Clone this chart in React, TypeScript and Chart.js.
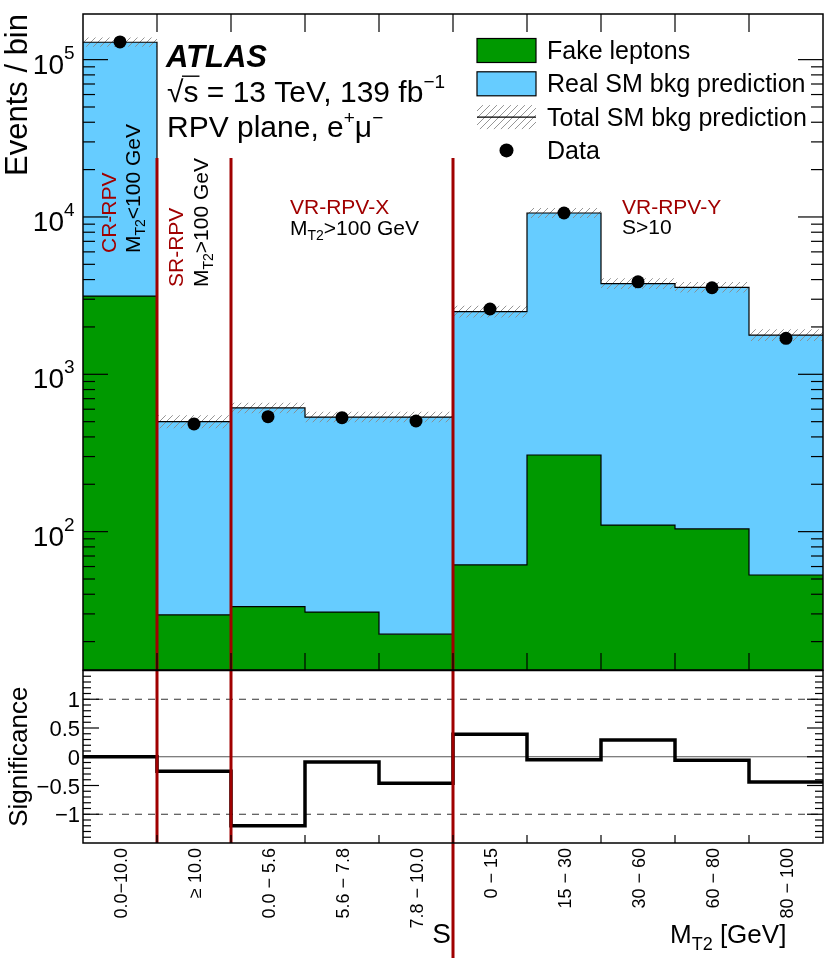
import { useEffect, useRef } from "react";
import { Chart, registerables } from "chart.js";
import type { Plugin } from "chart.js";
Chart.register(...registerables);

const W = 830;
const H = 958;

// bins: CR-RPV | SR-RPV | VR-RPV-X (3 S bins) | VR-RPV-Y (5 MT2 bins)
const binLabels = [
  "0.0\u221210.0",
  "\u2265 10.0",
  "0.0 \u2212 5.6",
  "5.6 \u2212 7.8",
  "7.8 \u2212 10.0",
  "0 \u2212 15",
  "15 \u2212 30",
  "30 \u2212 60",
  "60 \u2212 80",
  "80 \u2212 100",
];
const fakeLeptons = [3140, 29.6, 33.4, 30.8, 22.3, 61.4, 307, 110, 104, 53];
const totalBkg = [129000, 500, 611, 535, 535, 2500, 10600, 3770, 3570, 1772];
const totalRelErr = [0.07, 0.1, 0.08, 0.08, 0.08, 0.09, 0.075, 0.08, 0.08, 0.09];
const dataCounts = [129500, 483, 538, 530, 505, 2600, 10600, 3870, 3550, 1693];
const significance = [0.0, -0.25, -1.2, -0.09, -0.46, 0.39, -0.05, 0.29, -0.06, -0.44];
const sigTicks = [-1, -0.5, 0, 0.5, 1];
const sigRefLines = [-1, 0, 1];
const regionEdges = [1, 2, 5];
const separatorTop = 2.37e4;

const GREEN = "#009900";
const BLUE = "#66ccff";
const RED = "#a00000";
const FONT = '"Liberation Sans", Arial, Helvetica, sans-serif';

type Part = { t: string; size: number; dy?: number; color?: string; style?: string };

const font = (size: number, style = "") => `${style} ${size}px ${FONT}`.trim();

function rich(
  ctx: CanvasRenderingContext2D,
  parts: Part[],
  x: number,
  y: number,
  angle = 0,
  align: "left" | "right" | "center" = "left"
) {
  ctx.save();
  ctx.translate(x, y);
  if (angle) ctx.rotate(angle);
  ctx.textAlign = "left";
  ctx.textBaseline = "alphabetic";
  let w = 0;
  for (const p of parts) {
    ctx.font = font(p.size, p.style);
    w += ctx.measureText(p.t).width;
  }
  let cx = align === "right" ? -w : align === "center" ? -w / 2 : 0;
  for (const p of parts) {
    ctx.font = font(p.size, p.style);
    ctx.fillStyle = p.color || "#000";
    ctx.fillText(p.t, cx, p.dy || 0);
    cx += ctx.measureText(p.t).width;
  }
  ctx.restore();
}

// bin i spans [i, i+1]; the last value is repeated to close the final bin
const steps = (vals: number[]) =>
  [...vals, vals[vals.length - 1]].map((y, i) => ({ x: i, y }));

function makeHatch(): CanvasPattern | string {
  const n = 7;
  const c = document.createElement("canvas");
  c.width = n;
  c.height = n;
  const g = c.getContext("2d");
  if (!g) return "rgba(0,0,0,0)";
  g.strokeStyle = "#8a8a8a";
  g.lineWidth = 0.9;
  for (const k of [0, n, 2 * n]) {
    g.beginPath();
    g.moveTo(-2, k + 2);
    g.lineTo(k + 2, -2);
    g.stroke();
  }
  return g.createPattern(c, "repeat") || "rgba(0,0,0,0)";
}

const mainDecor: Plugin<"line"> = {
  id: "mainDecor",
  afterDraw(chart) {
    const { ctx, chartArea: a } = chart;
    const x = chart.scales.x;
    const y = chart.scales.y;
    const seg = (x0: number, y0: number, x1: number, y1: number) => {
      ctx.beginPath();
      ctx.moveTo(x0, y0);
      ctx.lineTo(x1, y1);
      ctx.stroke();
    };
    ctx.save();

    // region separators
    ctx.strokeStyle = RED;
    ctx.lineWidth = 3;
    const topPx = y.getPixelForValue(separatorTop);
    for (const e of regionEdges) {
      const px = x.getPixelForValue(e);
      seg(px, topPx, px, a.bottom);
    }

    // ticks
    ctx.strokeStyle = "#000";
    ctx.lineWidth = 1.2;
    for (let i = 1; i < binLabels.length; i++) {
      const px = x.getPixelForValue(i);
      seg(px, a.top, px, a.top + 18);
      seg(px, a.bottom, px, a.bottom - 17);
    }
    for (let k = 1; k <= 5; k++) {
      for (let d = 1; d <= 9; d++) {
        const v = d * Math.pow(10, k);
        if (v < y.min || v > y.max) continue;
        const py = y.getPixelForValue(v);
        const len = d === 1 ? 25 : 12;
        seg(a.left, py, a.left + len, py);
        seg(a.right, py, a.right - len, py);
        if (d === 1) {
          rich(ctx, [{ t: "10", size: 28 }], 64, py + 14, 0, "right");
          rich(ctx, [{ t: String(k), size: 19 }], 64, py - 1);
        }
      }
    }
    ctx.lineWidth = 1.5;
    ctx.strokeRect(a.left, a.top, a.right - a.left, a.bottom - a.top);

    rich(ctx, [{ t: "Events / bin", size: 31 }], 27, a.top, -Math.PI / 2, "right");

    // ATLAS block
    rich(ctx, [{ t: "ATLAS", size: 31, style: "italic bold" }], 166, 67);
    ctx.font = font(30);
    const rootW = ctx.measureText("\u221A").width;
    const sW = ctx.measureText("s").width;
    rich(
      ctx,
      [
        { t: "\u221A", size: 30 },
        { t: "s = 13 TeV, 139 fb", size: 30 },
        { t: "\u22121", size: 19, dy: -14 },
      ],
      167,
      101.7
    );
    ctx.lineWidth = 1.4;
    seg(167 + rootW - 1.5, 101.7 - 25.5, 167 + rootW + sW + 1, 101.7 - 25.5);
    rich(
      ctx,
      [
        { t: "RPV plane, e", size: 30 },
        { t: "+", size: 19, dy: -13 },
        { t: "\u03BC", size: 30 },
        { t: "\u2212", size: 19, dy: -13 },
      ],
      167,
      136.7
    );

    // region labels
    const up = -Math.PI / 2;
    rich(ctx, [{ t: "CR-RPV", size: 21, color: RED }], 116, 253, up);
    rich(
      ctx,
      [{ t: "M", size: 21 }, { t: "T2", size: 14, dy: 5 }, { t: "<100 GeV", size: 21 }],
      139.5,
      253,
      up
    );
    rich(ctx, [{ t: "SR-RPV", size: 21, color: RED }], 182.7, 287, up);
    rich(
      ctx,
      [{ t: "M", size: 21 }, { t: "T2", size: 14, dy: 5 }, { t: ">100 GeV", size: 21 }],
      208,
      287,
      up
    );
    rich(ctx, [{ t: "VR-RPV-X", size: 21, color: RED }], 290, 214);
    rich(
      ctx,
      [{ t: "M", size: 21 }, { t: "T2", size: 14, dy: 5 }, { t: ">100 GeV", size: 21 }],
      290,
      235
    );
    rich(ctx, [{ t: "VR-RPV-Y", size: 21, color: RED }], 622, 214);
    rich(ctx, [{ t: "S>10", size: 21 }], 622, 234);

    // legend
    const ds = chart.data.datasets;
    const entries = [ds[0], ds[1], ds[3], ds[4]];
    entries.forEach((d, i) => {
      const yc = 50.5 + 33.3 * i;
      const bx = 477;
      const bw = 59;
      if (i < 2) {
        ctx.fillStyle = d.backgroundColor as string;
        ctx.fillRect(bx, yc - 12, bw, 24);
        ctx.strokeStyle = "#000";
        ctx.lineWidth = 1.2;
        ctx.strokeRect(bx, yc - 12, bw, 24);
      } else if (i === 2) {
        ctx.fillStyle = d.backgroundColor as CanvasPattern;
        ctx.fillRect(bx, yc - 12, bw, 24);
        ctx.strokeStyle = "#000";
        ctx.lineWidth = 1.2;
        seg(bx, yc, bx + bw, yc);
      } else {
        ctx.fillStyle = "#000";
        ctx.beginPath();
        ctx.arc(bx + bw / 2, yc, 7, 0, Math.PI * 2);
        ctx.fill();
      }
      rich(ctx, [{ t: String(d.label), size: 25 }], 547, yc + 8.5);
    });

    ctx.restore();
  },
};

const sigDecor: Plugin<"line"> = {
  id: "sigDecor",
  afterDraw(chart) {
    const { ctx, chartArea: a } = chart;
    const x = chart.scales.x;
    const y = chart.scales.y;
    const seg = (x0: number, y0: number, x1: number, y1: number) => {
      ctx.beginPath();
      ctx.moveTo(x0, y0);
      ctx.lineTo(x1, y1);
      ctx.stroke();
    };
    ctx.save();

    ctx.strokeStyle = RED;
    ctx.lineWidth = 3;
    regionEdges.forEach((e, i) => {
      const px = x.getPixelForValue(e);
      seg(px, a.top, px, i === regionEdges.length - 1 ? chart.height : a.bottom);
    });

    ctx.strokeStyle = "#000";
    ctx.lineWidth = 1.2;
    for (let i = 1; i < binLabels.length; i++) {
      const px = x.getPixelForValue(i);
      seg(px, a.bottom, px, a.bottom - 8);
    }
    for (let j = -14; j <= 14; j++) {
      const py = y.getPixelForValue(j / 10);
      const len = j % 5 === 0 ? 16 : 8;
      seg(a.left, py, a.left + len, py);
      seg(a.right, py, a.right - len, py);
    }
    ctx.lineWidth = 1.5;
    ctx.strokeRect(a.left, a.top, a.right - a.left, a.bottom - a.top);

    for (const v of sigTicks) {
      const txt = v < 0 ? "\u2212" + Math.abs(v) : String(v);
      rich(ctx, [{ t: txt, size: 22 }], 80, y.getPixelForValue(v) + 8, 0, "right");
    }
    rich(ctx, [{ t: "Significance", size: 26 }], 27, y.getPixelForValue(0), -Math.PI / 2, "center");

    binLabels.forEach((lab, i) => {
      rich(ctx, [{ t: lab, size: 18 }], x.getPixelForValue(i + 0.5) + 6.5, 848, -Math.PI / 2, "right");
    });

    rich(ctx, [{ t: "S", size: 28 }], 451, 943, 0, "right");
    rich(
      ctx,
      [{ t: "M", size: 26 }, { t: "T2", size: 18, dy: 7 }, { t: " [GeV]", size: 26 }],
      670,
      943
    );
    ctx.restore();
  },
};

export default function App() {
  const mainRef = useRef<HTMLCanvasElement | null>(null);
  const sigRef = useRef<HTMLCanvasElement | null>(null);

  useEffect(() => {
    if (!mainRef.current || !sigRef.current) return;
    const hatch = makeHatch();
    const bandLo = totalBkg.map((t, i) => t / (1 + totalRelErr[i]));
    const bandHi = totalBkg.map((t, i) => t * (1 + totalRelErr[i]));

    const main = new Chart(mainRef.current, {
      type: "line",
      data: {
        datasets: [
          {
            label: "Fake leptons",
            data: steps(fakeLeptons),
            stepped: "before",
            fill: "start",
            backgroundColor: GREEN,
            borderColor: "#000",
            borderWidth: 1.2,
            pointRadius: 0,
            order: 4,
          },
          {
            label: "Real SM bkg prediction",
            data: steps(totalBkg),
            stepped: "before",
            fill: "-1",
            backgroundColor: BLUE,
            borderColor: "#000",
            borderWidth: 1.2,
            pointRadius: 0,
            order: 3,
          },
          {
            label: "band low",
            data: steps(bandLo),
            stepped: "before",
            fill: false,
            borderWidth: 0,
            pointRadius: 0,
            order: 2,
          },
          {
            label: "Total SM bkg prediction",
            data: steps(bandHi),
            stepped: "before",
            fill: "-1",
            backgroundColor: hatch as any,
            borderWidth: 0,
            pointRadius: 0,
            order: 1,
          },
          {
            label: "Data",
            data: dataCounts.map((v, i) => ({ x: i + 0.5, y: v })),
            showLine: false,
            pointRadius: 6.5,
            pointBackgroundColor: "#000",
            pointBorderWidth: 0,
            order: 0,
          },
        ],
      },
      options: {
        responsive: false,
        animation: false,
        events: [],
        layout: { autoPadding: false, padding: { left: 83, right: 7, top: 14, bottom: H - 670 } },
        scales: {
          x: { type: "linear", min: 0, max: 10, display: false },
          y: { type: "logarithmic", min: 13.2, max: 1.95e5, display: false },
        },
        plugins: {
          legend: { display: false },
          tooltip: { enabled: false },
          filler: { propagate: false, drawTime: "beforeDatasetsDraw" },
        },
      },
      plugins: [mainDecor],
    });

    const sig = new Chart(sigRef.current, {
      type: "line",
      data: {
        datasets: [
          {
            label: "Significance",
            data: steps(significance),
            stepped: "before",
            borderColor: "#000",
            borderWidth: 3.5,
            pointRadius: 0,
            order: 0,
          },
          ...sigRefLines.map((v) => ({
            label: "ref " + v,
            data: [
              { x: 0, y: v },
              { x: 10, y: v },
            ],
            borderColor: v === 0 ? "#555" : "#333",
            borderWidth: 1.2,
            borderDash: v === 0 ? [] : [7, 6],
            pointRadius: 0,
            order: 1,
          })),
        ],
      },
      options: {
        responsive: false,
        animation: false,
        events: [],
        layout: { autoPadding: false, padding: { left: 83, right: 7, top: 670.5, bottom: H - 843 } },
        scales: {
          x: { type: "linear", min: 0, max: 10, display: false },
          y: { type: "linear", min: -1.5, max: 1.5, display: false },
        },
        plugins: { legend: { display: false }, tooltip: { enabled: false } },
      },
      plugins: [sigDecor],
    });

    return () => {
      main.destroy();
      sig.destroy();
    };
  }, []);

  return (
    <div style={{ position: "absolute", left: 0, top: 0, width: W, height: H, background: "#fff" }}>
      <canvas ref={mainRef} width={W} height={H} style={{ position: "absolute", left: 0, top: 0 }} />
      <canvas ref={sigRef} width={W} height={H} style={{ position: "absolute", left: 0, top: 0 }} />
    </div>
  );
}
